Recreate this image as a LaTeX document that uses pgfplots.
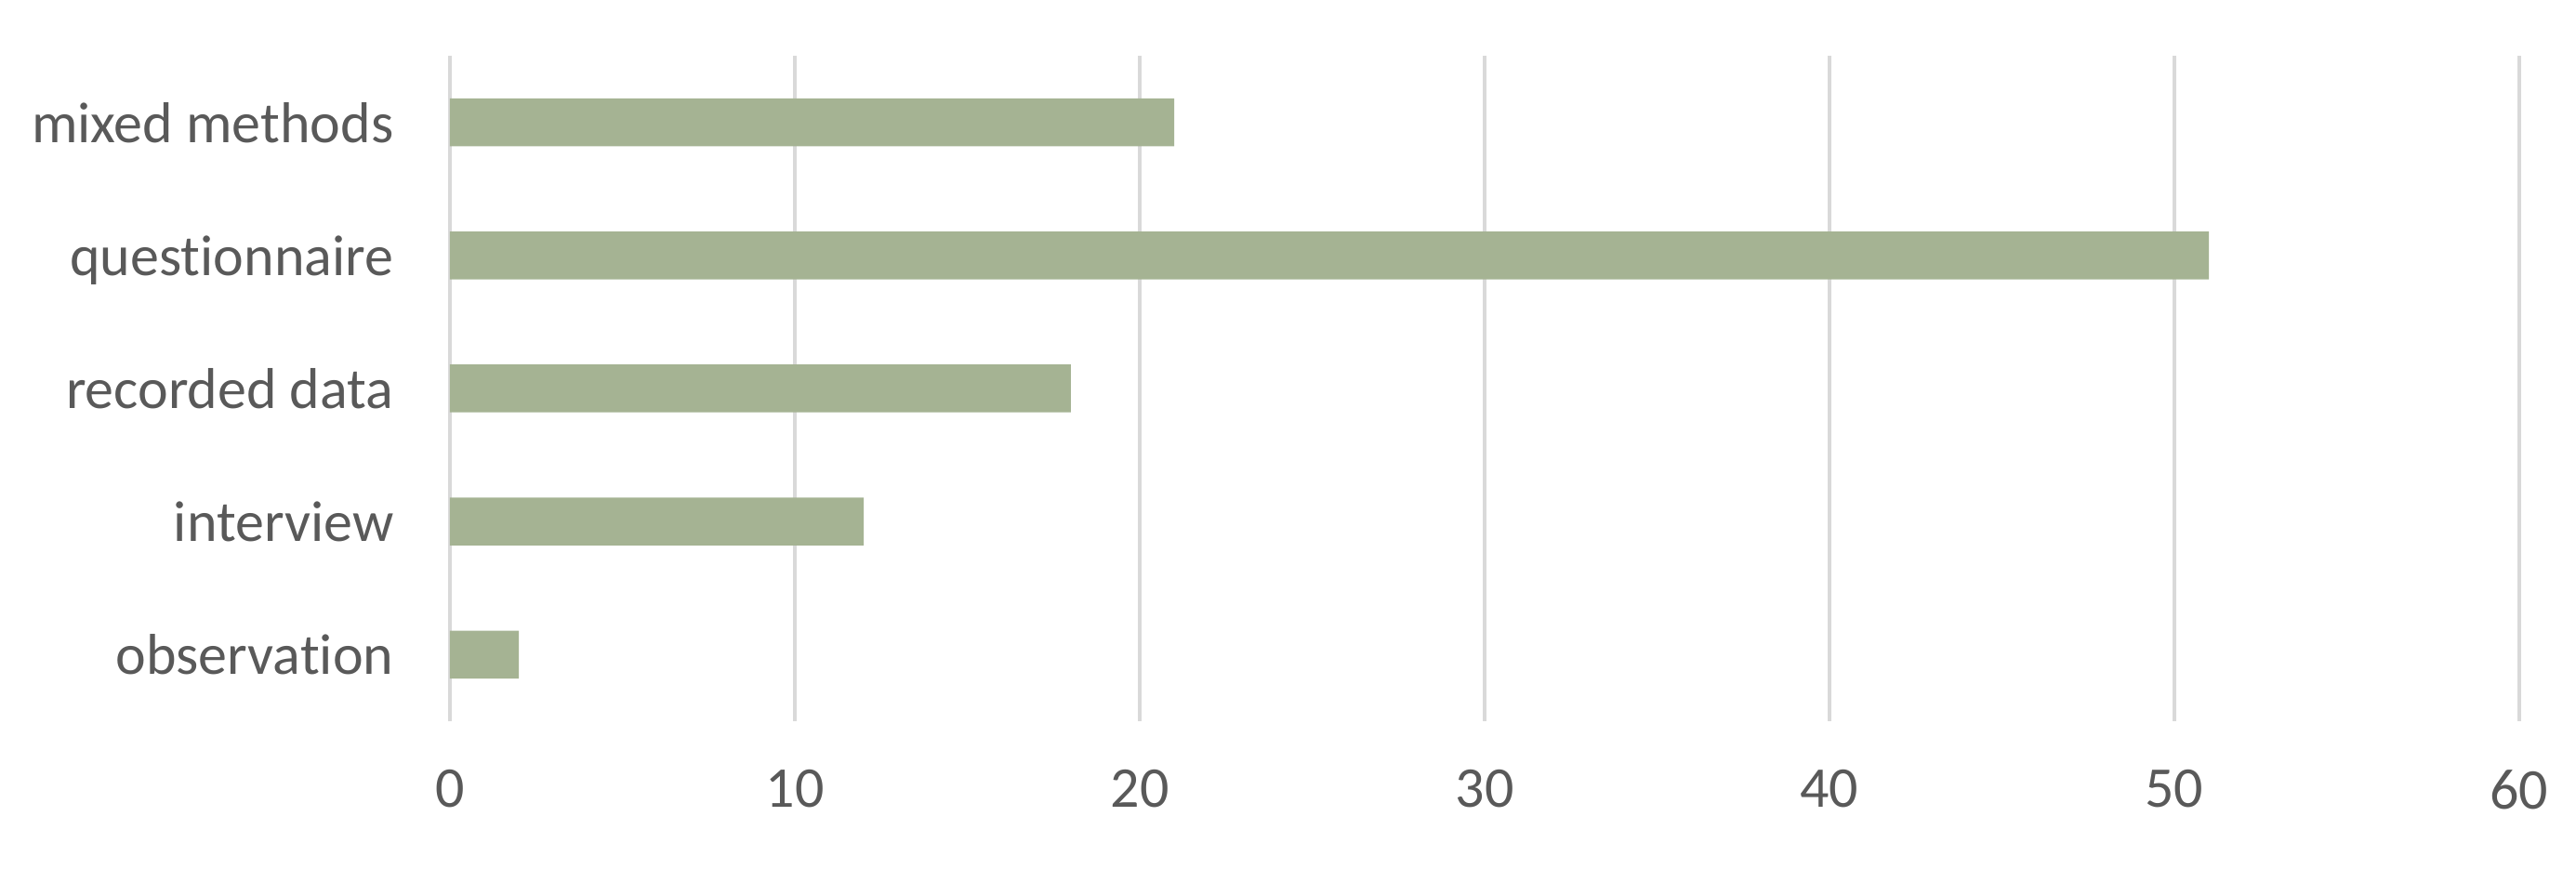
\documentclass[border=0pt]{standalone}
\usepackage{fontspec}
\setmainfont{Carlito}[Ligatures=NoCommon]
\usepackage{pgfplots}
\pgfplotsset{compat=1.18}
\definecolor{barfill}{HTML}{A5B393}
\definecolor{gridgray}{HTML}{D9D9D9}
\definecolor{labelgray}{HTML}{595959}

\begin{document}
\begin{tikzpicture}
\begin{axis}[
  name=ax,
  xbar,
  scale only axis,
  width=445.2pt,
  height=143.2pt,
  bar width=10.3pt,
  xmin=0, xmax=60,
  ymin=-0.5, ymax=4.5,
  xtick={0,10,...,60},
  ytick={0,1,2,3,4},
  yticklabels={observation, interview, recorded data, questionnaire, mixed methods},
  axis line style={draw=none},
  major tick length=0pt,
  xmajorgrids=true,
  grid style={gridgray, line width=0.8pt},
  tick label style={font=\fontsize{12.4pt}{14pt}\selectfont, text=labelgray},
  xticklabel style={anchor=north, yshift=-7pt},
  yticklabel style={anchor=east, xshift=-8.6pt, yshift=-1.8pt, text height=0.62em, text depth=0.12em},
  /pgf/number format/assume math mode=true,
  clip=false,
]
\addplot[fill=barfill, draw=none] coordinates {
  (2,0) (12,1) (18,2) (51,3) (21,4)
};
\end{axis}
\path (ax.south west) ++(-96.8pt,-31.8pt) rectangle ++(554.2pt,187pt);
\end{tikzpicture}
\end{document}
